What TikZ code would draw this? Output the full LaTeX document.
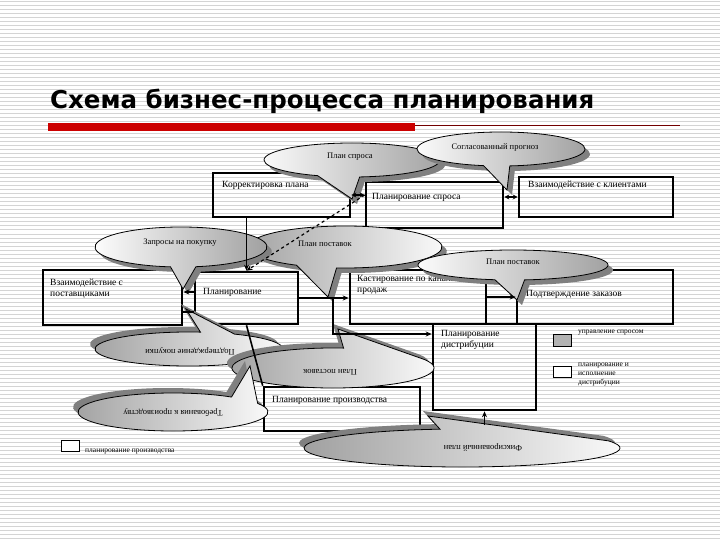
\documentclass[tikz,border=0pt]{standalone}
\usepackage{fontspec}
\setmainfont{Liberation Serif}
\newfontfamily\titlefont{DejaVu Sans}
\usetikzlibrary{arrows.meta}

% callout: #1 shading, #2 centre, #3/#4 radii, #5/#6 base angles, #7 tip, #8 shadow shift
\newcommand{\bubble}[8]{%
  \fill[bshadow, shift={(#8)}] (#2) ++(#6:#3 and #4)
    arc[start angle=#6, end angle=#5+360, x radius=#3, y radius=#4] -- (#7) -- cycle;
  \shadedraw[bubline, #1] (#2) ++(#6:#3 and #4)
    arc[start angle=#6, end angle=#5+360, x radius=#3, y radius=#4] -- (#7) -- cycle;
}

\begin{document}
\begin{tikzpicture}[x=1pt, y=-1pt,
    stripe/.style={black!17, line width=1pt},
    box/.style={draw, line width=2.6pt, inner sep=0pt},
    lbl/.style={font=\fontsize{9.5}{11}\selectfont, anchor=west, inner sep=0pt, align=left},
    btxt/.style={font=\fontsize{8.5}{10}\selectfont, inner sep=0pt},
    ltxt/.style={font=\fontsize{7.5}{9}\selectfont, align=left, anchor=west, inner sep=0pt},
    bshadow/.style={fill=black!50},
    bubline/.style={draw=black, line width=0.8pt},
    lw/.style={left color=white, right color=black!38},
    lg/.style={left color=black!38, right color=white},
    arr/.style={-{Stealth[length=6pt,width=5pt]}, line width=1.6pt},
    darr/.style={{Stealth[length=5pt,width=5pt]}-{Stealth[length=5pt,width=5pt]}, line width=1.6pt}]
  \useasboundingbox (0,0) rectangle (720,540);
  \fill[white] (0,0) rectangle (720,540);
  \foreach \y in {2,6,...,538}
    \draw[stripe] (0,\y) -- (720,\y);

  % title
  \node[anchor=west, inner sep=0pt, font=\titlefont\bfseries\fontsize{24.5}{28}\selectfont] (title) at (50,101) {Схема бизнес-процесса планирования};
  \fill[red!80!black] (48,123) rectangle (415,131);
  \draw[red!45!black, line width=1pt] (415,126) -- (680,126);

  % boxes
  \node[box, minimum width=137pt, minimum height=44pt] (korr) at (281.5,195) {};
  \node[box, minimum width=137pt, minimum height=46pt] (spros) at (434.5,205) {};
  \node[box, minimum width=154pt, minimum height=40pt] (klient) at (596,197) {};
  \node[box, minimum width=139pt, minimum height=55pt] (postav) at (112.5,297.5) {};
  \node[box, minimum width=103pt, minimum height=52pt] (plan) at (246.5,298) {};
  \node[box, minimum width=136pt, minimum height=54pt] (kast) at (418,297) {};
  \node[box, minimum width=156pt, minimum height=54pt] (podtv) at (595,297) {};
  \node[box, minimum width=103pt, minimum height=86pt] (dist) at (484.5,367) {};
  \node[box, minimum width=156pt, minimum height=44pt] (proizv) at (342,409) {};

  \node[lbl] (korrT) at (222,185) {Корректировка плана};
  \node[lbl] (sprosT) at (372,197) {Планирование спроса};
  \node[lbl] (klientT) at (528,185) {Взаимодействие с клиентами};
  \node[lbl] (postavT) at (50,289) {Взаимодействие с\\поставщиками};
  \node[lbl] (planT) at (203,292) {Планирование};
  \node[lbl] (kastT) at (357,285) {Кастирование по каналам\\продаж};
  \node[lbl] (podtvT) at (526,294) {Подтверждение заказов};
  \node[lbl] (distT) at (441,340) {Планирование\\дистрибуции};
  \node[lbl] (proizvT) at (272,400) {Планирование производства};

  % callouts
  \bubble{lw}{352,160}{88}{17}{85}{113}{352,199}{5,5}
  \node[btxt] (planSpros) at (350,157) {План спроса};
  \bubble{lw}{501,149}{84}{17}{84}{102}{507,190}{5,5}
  \node[btxt] (soglas) at (495,147) {Согласованный прогноз};
  \bubble{lg}{345,247}{97}{21}{95}{120}{328,297}{5,5}
  \node[btxt] (planPost1) at (325,244) {План поставок};
  \bubble{lw}{181,247}{86}{20}{80}{97}{183,289}{5,5}
  \node[btxt] (zapros) at (180,243) {Запросы на покупку};
  \bubble{lw}{513,265}{95}{15}{83}{101}{517,300}{5,5}
  \node[btxt] (planPost2) at (513,262) {План поставок};
  \bubble{lg}{189,349}{94}{17}{277}{299}{186,309}{-5,-5}
  \node[btxt, rotate=180] (podtvPok) at (190,351) {Подтверждение покупки};
  \bubble{lg}{333,368}{101}{20}{276}{335}{338,329}{-5,-5}
  \node[btxt, rotate=180] (planPost3) at (330,372) {План поставок};
  \bubble{lg}{173,412}{95}{19}{308}{333}{250,366}{-5,-5}
  \node[btxt, rotate=180] (treb) at (173,413) {Требования к производству};
  \bubble{lg}{462,448}{158}{19}{262}{338}{428,416}{-5,-5}
  \node[btxt, rotate=180] (fiks) at (483,448) {Фиксированный план};

  % connectors
  \draw[darr] (korr.east) -- (korr.east -| spros.west);
  \draw[darr] (klient.west -| spros.east) -- (klient.west);
  \draw[arr, dashed, line width=1.2pt] (korr.east -| spros.west) -- (plan.north);
  \draw[arr] (korr.south -| plan.north) -- (plan.north);
  \draw[arr] ([yshift=6pt]plan.west) -- ([yshift=6pt]plan.west -| postav.east);
  \draw[line width=1.6pt] ([yshift=-14pt]plan.west) -- ([yshift=-14pt]plan.west -| postav.east);
  \draw[arr] (plan.east) -- (plan.east -| kast.west);
  \coordinate (split) at (333,298);
  \draw[arr] (split) |- ([yshift=33pt]dist.west);
  \draw[arr] (kast.east) -- (kast.east -| podtv.west);
  \draw[line width=1.6pt] (plan.south) -- (proizv.north west);
  \coordinate (fixtop) at (484.5,425);
  \draw[arr] (fixtop) -- (dist.south);

  % legend
  \node[draw, fill=black!30, minimum width=18pt, minimum height=12pt, inner sep=0pt] (leg1) at (562,340) {};
  \node[ltxt] (leg1T) at (578,333) {управление спросом};
  \node[draw, fill=white, minimum width=18pt, minimum height=11pt, inner sep=0pt] (leg2) at (562,372) {};
  \node[ltxt] (leg2T) at (578,375) {планирование и\\исполнение\\дистрибуции};
  \node[draw, fill=white, minimum width=18pt, minimum height=11pt, inner sep=0pt] (leg3) at (70,446) {};
  \node[ltxt] (leg3T) at (85,452) {планирование производства};
\end{tikzpicture}
\end{document}
